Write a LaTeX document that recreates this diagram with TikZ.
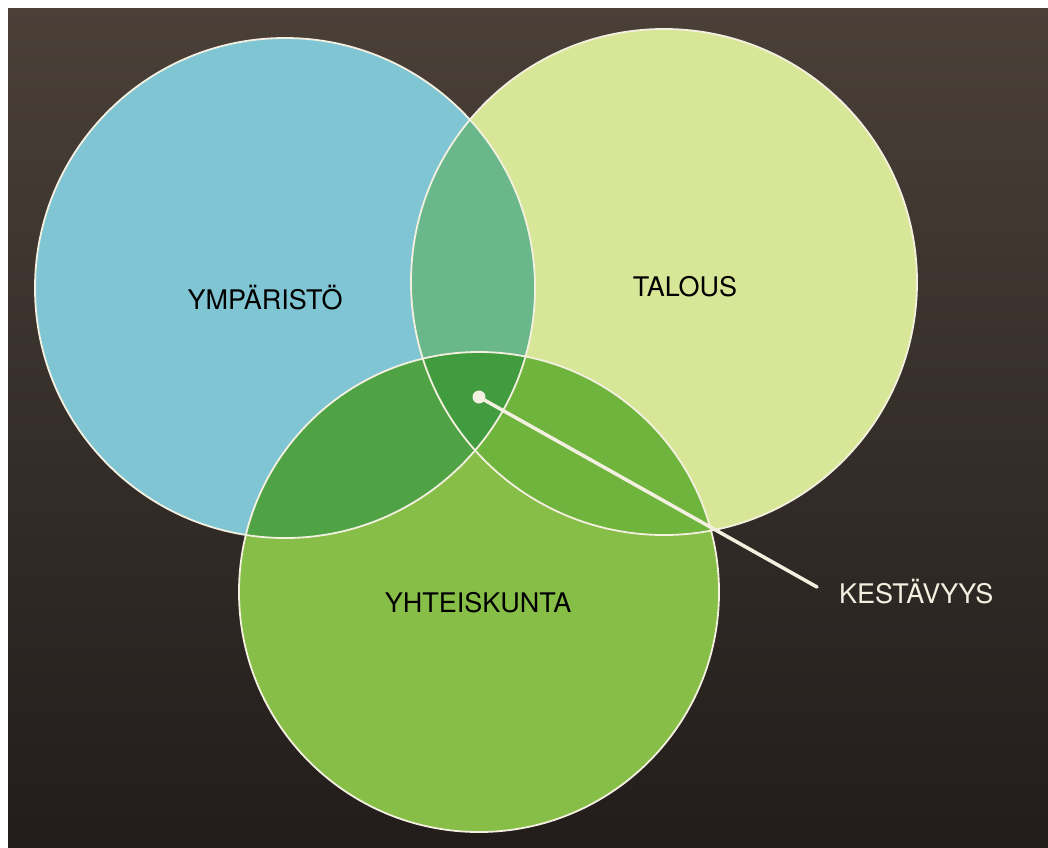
\documentclass[tikz,border=0pt]{standalone}
\usepackage{fontspec}
\setmainfont{TeX Gyre Heros}
\definecolor{bgtop}{HTML}{4A4038}
\definecolor{bgbot}{HTML}{221C1B}
\definecolor{envblue}{HTML}{80C5D3}
\definecolor{ecoyel}{HTML}{D8E797}
\definecolor{socgrn}{HTML}{86BE47}
\definecolor{blueyel}{HTML}{6AB78C}
\definecolor{bluegrn}{HTML}{4FA344}
\definecolor{yelgrn}{HTML}{6FB43C}
\definecolor{core}{HTML}{409C3E}
\definecolor{rim}{HTML}{F4F0E0}
\tikzset{
  rimline/.style={draw=rim, line width=1.8pt},
  label/.style={font=\fontsize{27}{31}\selectfont, text=black, inner sep=0pt},
  leader/.style={draw=rim, line width=3.5pt, line cap=round}
}
\begin{document}
\begin{tikzpicture}[x=1pt,y=-1pt]
  % page and backdrop
  \fill[white] (0,0) rectangle (1048,847);
  \shade[top color=bgtop, bottom color=bgbot] (8,8) rectangle (1048,847);
  \useasboundingbox (0,0) rectangle (1048,847);
  % circle centres and radii
  \def\blueC{(285,288) circle (250)}
  \def\yelC{(664,282) circle (253)}
  \def\grnC{(479,592) circle (240)}
  % base discs
  \fill[envblue] \blueC;
  \fill[ecoyel] \yelC;
  \fill[socgrn] \grnC;
  % overlaps
  \begin{scope}\clip \blueC; \fill[blueyel] \yelC; \end{scope}
  \begin{scope}\clip \blueC; \fill[bluegrn] \grnC; \end{scope}
  \begin{scope}\clip \yelC; \fill[yelgrn] \grnC; \end{scope}
  \begin{scope}\clip \blueC; \clip \yelC; \fill[core] \grnC; \end{scope}
  % outlines
  \draw[rimline] \blueC;
  \draw[rimline] \yelC;
  \draw[rimline] \grnC;
  % labels
  \node[label] (env) at (265,298) {YMPÄRISTÖ};
  \node[label] (eco) at (685,287) {TALOUS};
  \node[label] (soc) at (478,603) {YHTEISKUNTA};
  \node[label, text=rim, anchor=west] (sus) at (839,592) {KESTÄVYYS};
  % leader from the core to its label
  \coordinate (lineend) at (817,587);
  \fill[rim] (479,397) circle (6.5) coordinate (dot);
  \draw[leader] (dot) -- (lineend);
\end{tikzpicture}
\end{document}
